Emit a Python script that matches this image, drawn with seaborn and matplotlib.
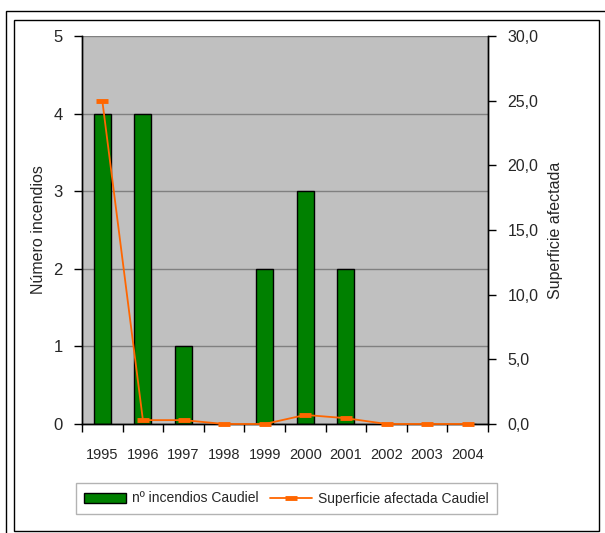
import numpy as np
import matplotlib
matplotlib.use("Agg")
import matplotlib.pyplot as plt
import seaborn as sns
from matplotlib.patches import Rectangle, Patch
from matplotlib.lines import Line2D
from matplotlib.ticker import FuncFormatter, FixedLocator

years = ["1995", "1996", "1997", "1998", "1999", "2000", "2001", "2002", "2003", "2004"]
n_fires = [4, 4, 1, 0, 2, 3, 2, 0, 0, 0]
area = [25.0, 0.3, 0.3, 0.0, 0.0, 0.7, 0.45, 0.0, 0.0, 0.0]

bar_label = "nº incendios Caudiel"
line_label = "Superficie afectada Caudiel"


def setup_style():
    sns.set_theme(style="white")
    plt.rcParams["font.family"] = ["Liberation Sans", "DejaVu Sans"]
    plt.rcParams["font.size"] = 10


def draw_chart():
    fig = plt.figure(figsize=(6.05, 5.33), dpi=100)
    W, H = 605, 533
    ax = fig.add_axes([82 / W, 1 - 424 / H, (488 - 82) / W, (424 - 36) / H])
    ax.set_facecolor("#C0C0C0")

    pos = np.arange(len(years))
    sns.barplot(x=pos, y=n_fires, ax=ax, color="#008000", width=0.42,
                edgecolor="black", linewidth=1, saturation=1, native_scale=True)
    ax.set_xlim(-0.5, len(years) - 0.5)
    ax.set_ylim(0, 5)
    ax.set_yticks(range(6))
    ax.yaxis.grid(True, color="#808080", linewidth=1)
    ax.set_axisbelow(True)
    ax.xaxis.set_major_locator(FixedLocator(np.arange(-0.5, len(years), 1.0)))
    ax.xaxis.set_minor_locator(FixedLocator(pos))
    ax.set_xticklabels([])
    ax.set_xticklabels(years, minor=True)
    ax.tick_params(axis="x", which="major", direction="out", length=6,
                   width=1, color="black", bottom=True)
    ax.tick_params(axis="x", which="minor", length=0, pad=17, labelsize=10.5)
    ax.tick_params(axis="y", direction="out", length=6, width=1,
                   color="black", left=True, labelsize=12, pad=8)
    for s in ax.spines.values():
        s.set_color("black")
        s.set_linewidth(1)
    ax.spines["top"].set_visible(False)
    ax.set_ylabel("Número incendios", fontsize=11.5, labelpad=5)
    ax.set_xlabel("")

    ax2 = ax.twinx()
    sns.lineplot(x=pos, y=area, ax=ax2, color="#FF6600", linewidth=1.3,
                 marker="_", markersize=9, markeredgewidth=3.5,
                 markeredgecolor="#FF6600", clip_on=False, zorder=5)
    ax2.set_ylim(0, 30)
    ax2.set_yticks(np.arange(0, 31, 5))
    ax2.yaxis.set_major_formatter(FuncFormatter(lambda v, p: f"{v:.1f}".replace(".", ",")))
    ax2.tick_params(axis="y", direction="out", length=6, width=1,
                    color="black", right=True, labelsize=11.5, pad=8)
    for s in ax2.spines.values():
        s.set_color("black")
        s.set_linewidth(1)
    ax2.spines["top"].set_visible(False)
    ax2.set_ylabel("Superficie afectada", fontsize=11.5, labelpad=7)
    ax2.set_xlim(-0.5, len(years) - 0.5)

    handles = [
        Patch(facecolor="#008000", edgecolor="black", linewidth=1, label=bar_label),
        Line2D([0], [0], color="#FF6600", linewidth=1.3, marker="_",
               markersize=9, markeredgewidth=3.5, label=line_label),
    ]
    leg = fig.legend(handles=handles, loc="center", ncol=2,
                     bbox_to_anchor=(286.5 / W, 1 - 498.5 / H), fontsize=10,
                     frameon=True, fancybox=False, borderpad=0.6,
                     handlelength=3.0, columnspacing=0.8, handletextpad=0.45,
                     borderaxespad=0)
    leg.get_frame().set_edgecolor("#A0A0A0")
    leg.get_frame().set_linewidth(1)

    fig.patches.append(Rectangle((6 / W, 1 - 545 / H), 610 / W, 534 / H,
                                 transform=fig.transFigure, fill=False,
                                 edgecolor="black", linewidth=1))
    fig.patches.append(Rectangle((14 / W, 1 - 531 / H), 585 / W, 511 / H,
                                 transform=fig.transFigure, fill=False,
                                 edgecolor="black", linewidth=1))
    fig.savefig("out.png", dpi=100)


if __name__ == "__main__":
    setup_style()
    draw_chart()
